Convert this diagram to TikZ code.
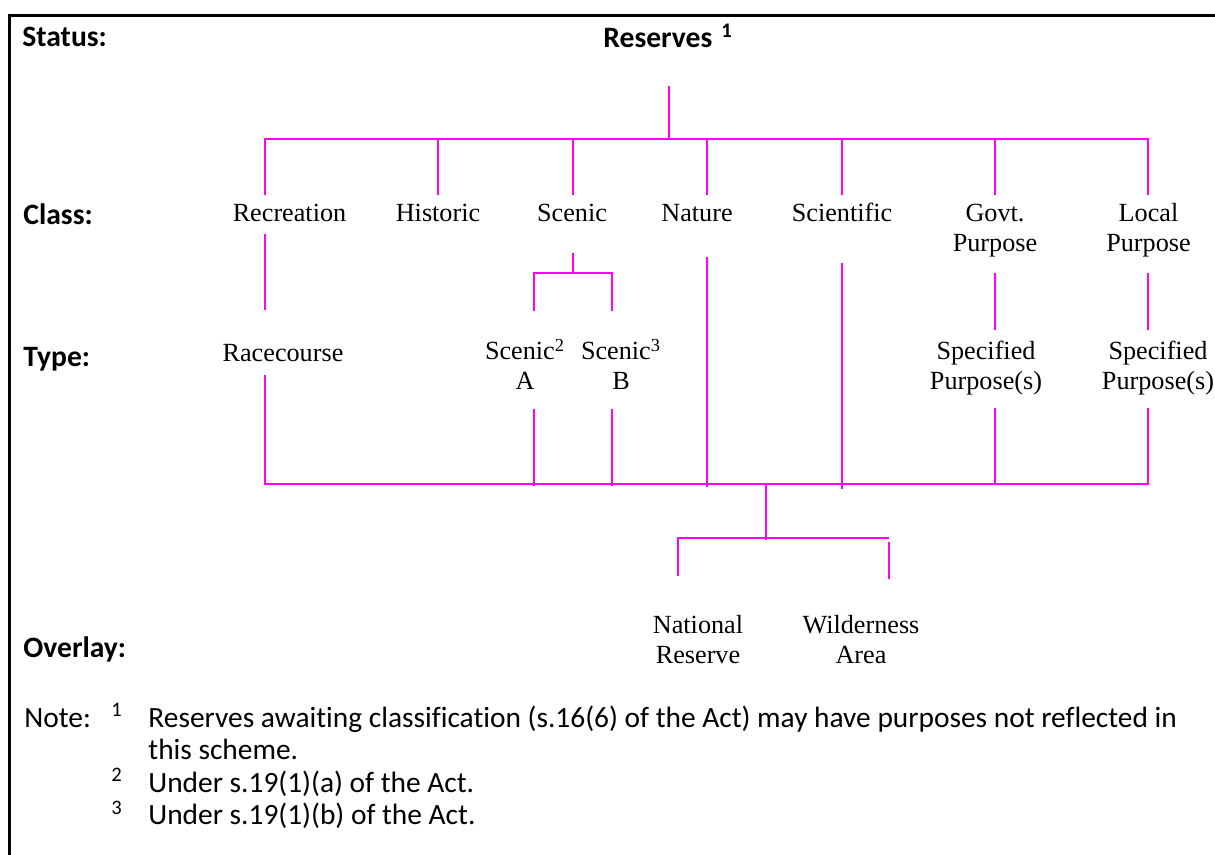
\documentclass[tikz,border=0pt]{standalone}
\usepackage{fontspec}
\setmainfont{Liberation Serif}
\newfontfamily\calfont[Ligatures=NoCommon]{Carlito}
\definecolor{mag}{RGB}{255,0,255}
\begin{document}
\begin{tikzpicture}[x=0.5pt,y=-0.5pt,
  lab/.style={font=\calfont\bfseries\fontsize{14.8}{17}\selectfont, anchor=base west, inner sep=0},
  cls/.style={font=\fontsize{13.1}{15}\selectfont, anchor=base, inner sep=0},
  notetxt/.style={font=\calfont\fontsize{14.7}{16.25}\selectfont, anchor=base west, inner sep=0},
  link/.style={draw=mag, line width=1.25pt},
  frame/.style={draw=black, line width=1.5pt}]
\useasboundingbox (0,0) rectangle (1215,855);
% frame
\coordinate (fb) at (9,855);
\coordinate (fc) at (9,15.3);
\coordinate (fr) at (1215,15.3);
\draw[frame] (fb) -- (fc) -- (fr);

% row labels
\node[lab] (status) at (22,47) {Status:};
\node[lab] (class) at (23,225) {Class:};
\node[lab] (type) at (23,367) {Type:};
\node[lab] (overlay) at (23,657) {Overlay:};

% status
\node[lab] (reserves) at (603,48) {Reserves\hspace{0.3em}\textsuperscript{1}};

% classes
\node[cls] (rec) at (289.5,222) {Recreation};
\node[cls] (his) at (438,222) {Historic};
\node[cls] (sce) at (572,222) {Scenic};
\node[cls] (nat) at (697,222) {Nature};
\node[cls] (sci) at (842,222) {Scientific};
\node[cls] (gov) at (995,222) {\begin{tabular}[t]{@{}c@{}}Govt.\\Purpose\end{tabular}};
\node[cls] (loc) at (1148.5,222) {\begin{tabular}[t]{@{}c@{}}Local\\Purpose\end{tabular}};

% types
\node[cls] (race) at (283,362) {Racecourse};
\node[cls] (scA) at (525,360) {\begin{tabular}[t]{@{}c@{}}Scenic\textsuperscript{2}\\A\end{tabular}};
\node[cls] (scB) at (621,360) {\begin{tabular}[t]{@{}c@{}}Scenic\textsuperscript{3}\\B\end{tabular}};
\node[cls] (spG) at (986,360) {\begin{tabular}[t]{@{}c@{}}Specified\\Purpose(s)\end{tabular}};
\node[cls] (spL) at (1158,360) {\begin{tabular}[t]{@{}c@{}}Specified\\Purpose(s)\end{tabular}};

% overlays
\node[cls] (natres) at (698,633) {\begin{tabular}[t]{@{}c@{}}National\\Reserve\end{tabular}};
\node[cls] (wild) at (861,633) {\begin{tabular}[t]{@{}c@{}}Wilderness\\Area\end{tabular}};

% notes
\node[notetxt] (note) at (24,727) {Note:};
\node[notetxt] (n1s) at (111,727) {\textsuperscript{1}};
\node[notetxt] (n1) at (148,727) {\begin{tabular}[t]{@{}l@{}}Reserves awaiting classification (s.16(6) of the Act) may have purposes not reflected in\\this scheme.\end{tabular}};
\node[notetxt] (n2s) at (111,792) {\textsuperscript{2}};
\node[notetxt] (n2) at (148,792) {Under s.19(1)(a) of the Act.};
\node[notetxt] (n3s) at (111,824.5) {\textsuperscript{3}};
\node[notetxt] (n3) at (148,824.5) {Under s.19(1)(b) of the Act.};

% top tree
\coordinate (r0) at (669,86);
\coordinate (r1) at (669,139);
\draw[link] (r0) -- (r1);
\coordinate (tL) at (265,139);
\coordinate (tR) at (1148,139);
\coordinate (tLd) at (265,195);
\coordinate (tRd) at (1148,195);
\draw[link] (tLd) -- (tL) -- (tR) -- (tRd);
\foreach \x/\n in {438/b,573/c,707/d,842/e,995/f}{
  \coordinate (t\n) at (\x,139);
  \coordinate (d\n) at (\x,195);
  \draw[link] (t\n) -- (d\n);
}

% class to type
\coordinate (rec1) at (265,234);
\coordinate (rec2) at (265,310);
\draw[link] (rec1) -- (rec2);
\coordinate (sc1) at (573,253);
\coordinate (sc2) at (573,273);
\draw[link] (sc1) -- (sc2);
\coordinate (scAt) at (534,273);
\coordinate (scAb) at (534,311);
\coordinate (scBt) at (612,273);
\coordinate (scBb) at (612,311);
\draw[link] (scAb) -- (scAt) -- (scBt) -- (scBb);
\coordinate (gov1) at (995,273);
\coordinate (gov2) at (995,330);
\draw[link] (gov1) -- (gov2);
\coordinate (loc1) at (1148,273);
\coordinate (loc2) at (1148,330);
\draw[link] (loc1) -- (loc2);
\coordinate (nat1) at (707,257);
\coordinate (nat2) at (707,487);
\draw[link] (nat1) -- (nat2);
\coordinate (sci1) at (842,263);
\coordinate (sci2) at (842,489);
\draw[link] (sci1) -- (sci2);

% type to bottom bar
\coordinate (race1) at (265,375);
\coordinate (barL) at (265,484);
\coordinate (barR) at (1148,484);
\coordinate (spL1) at (1148,408);
\draw[link] (race1) -- (barL) -- (barR) -- (spL1);
\coordinate (scA1) at (534,409);
\coordinate (scA2) at (534,486);
\draw[link] (scA1) -- (scA2);
\coordinate (scB1) at (612,409);
\coordinate (scB2) at (612,486);
\draw[link] (scB1) -- (scB2);
\coordinate (spG1) at (995,408);
\coordinate (spG2) at (995,484);
\draw[link] (spG1) -- (spG2);

% overlay
\coordinate (ov0) at (766,484);
\coordinate (ov1) at (766,540);
\draw[link] (ov0) -- (ov1);
\coordinate (ovL) at (678,576);
\coordinate (ovLt) at (678,538);
\coordinate (ovRt) at (889,538);
\draw[link] (ovL) -- (ovLt) -- (ovRt);
\coordinate (ovR1) at (889,542);
\coordinate (ovR2) at (889,579);
\draw[link] (ovR1) -- (ovR2);
\end{tikzpicture}
\end{document}
